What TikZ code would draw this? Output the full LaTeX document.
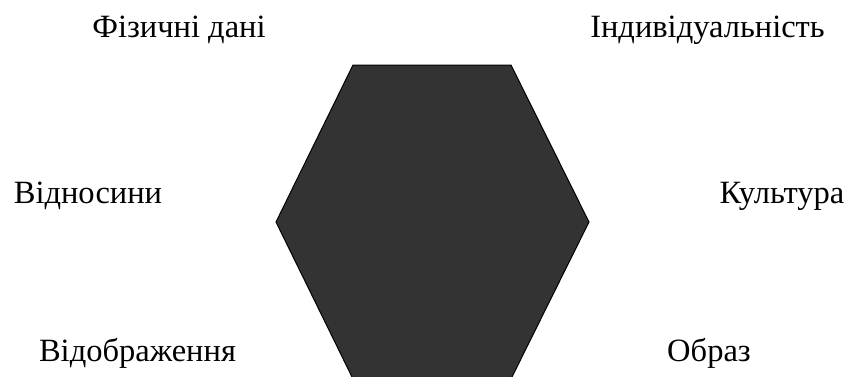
\documentclass[tikz,border=0pt]{standalone}
\usepackage{fontspec}
\setmainfont{Liberation Serif}

\begin{document}
\begin{tikzpicture}[
  x=1pt,y=1pt,
  every node/.style={font=\fontsize{32.5}{38}\selectfont},
  facet label/.style={anchor=base,inner sep=0pt},
  hex fill/.style={fill=black!80,draw=black,line width=1pt,line join=miter},
]
\useasboundingbox (0,0) rectangle (847,376);
\clip (0,0) rectangle (847,376);
% hexagon corners
\coordinate (h1) at (353,311);
\coordinate (h2) at (511,311);
\coordinate (h3) at (589,154);
\coordinate (h4) at (511,-3);
\coordinate (h5) at (353,-3);
\coordinate (h6) at (276,154);
\draw[hex fill] (h1) -- (h2) -- (h3) -- (h4) -- (h5) -- (h6) -- cycle;
% labels
\node[facet label] (phys) at (179,339) {Фізичні дані};
\node[facet label] (indiv) at (707.5,339) {Індивідуальність};
\node[facet label] (rel) at (88,173) {Відносини};
\node[facet label] (cult) at (782,173) {Культура};
\node[facet label] (refl) at (137.5,15) {Відображення};
\node[facet label] (image) at (709,15) {Образ};
\end{tikzpicture}
\end{document}
